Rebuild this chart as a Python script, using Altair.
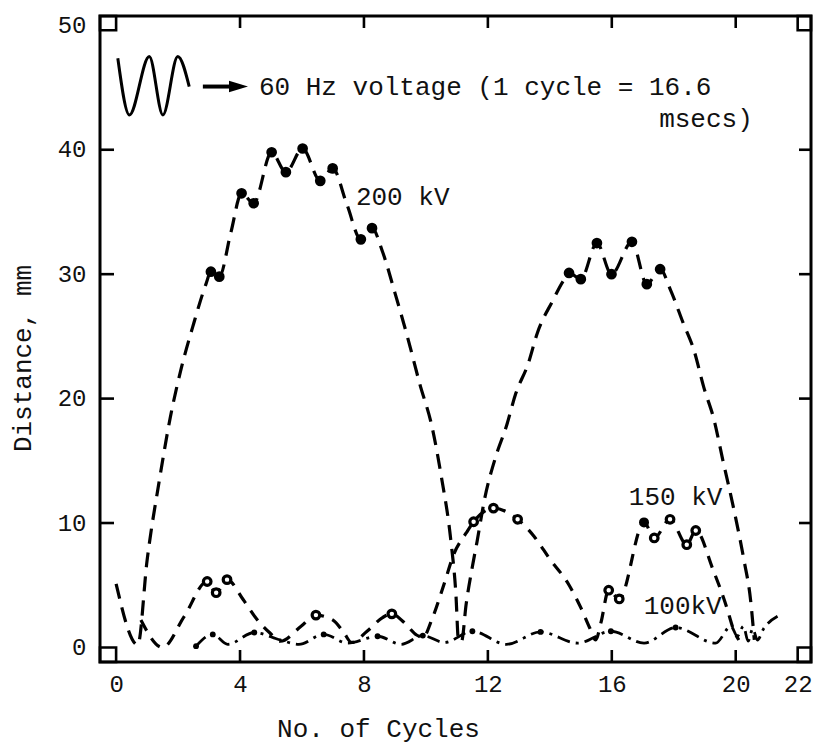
import altair as alt
import pandas as pd

# ---- 200 kV: dashed trace and the measured (filled) points ----
x200 = [0.0, 0.7, 1.0, 1.4, 1.75, 2.1, 2.5, 2.9, 3.06, 3.33, 3.7, 4.05, 4.44, 5.02,
        5.48, 6.02, 6.59, 6.99, 7.45, 7.9, 8.26, 8.6, 9.0, 9.4, 9.8, 10.2, 10.5, 10.8,
        10.97, 11.05, 11.15, 11.3, 11.5, 11.65, 11.9, 12.25, 12.6, 12.9, 13.3, 13.6,
        14.1, 14.42, 14.62, 15.0, 15.52, 15.99, 16.65, 17.13, 17.56, 17.9, 18.3, 18.65,
        18.97, 19.3, 19.58, 19.94, 20.26, 20.48, 20.6]
y200 = [5.1, 0.2, 7.0, 13.5, 18.5, 22.4, 26.0, 29.2, 30.2, 29.8, 33.3, 36.5, 35.7, 39.8,
        38.2, 40.1, 37.5, 38.5, 35.6, 32.8, 33.7, 31.8, 28.5, 25.0, 21.2, 17.7, 13.7, 8.7,
        4.2, 0.6, 0.5, 3.5, 6.5, 8.5, 12.0, 15.3, 17.8, 20.4, 22.8, 25.3,
        27.9, 29.4, 30.1, 29.6, 32.5, 30.0, 32.6, 29.2, 30.4, 28.7, 26.1, 23.9,
        20.9, 18.3, 15.1, 11.1, 7.1, 3.8, 0.6]
dot200_x = [3.06, 3.33, 4.05, 4.44, 5.02, 5.48, 6.02, 6.59, 6.99, 7.9, 8.26,
            14.62, 15.0, 15.52, 15.99, 16.65, 17.13, 17.56]
dot200_y = [30.2, 29.8, 36.5, 35.7, 39.8, 38.2, 40.1, 37.5, 38.5, 32.8, 33.7,
            30.1, 29.6, 32.5, 30.0, 32.6, 29.2, 30.4]

# ---- 150 kV: dashed trace, open-circle points (one filled) ----
x150 = [0.8, 1.5, 2.2, 2.94, 3.23, 3.58, 4.1, 4.5, 4.95, 5.3, 5.97, 6.45, 7.0, 7.35,
        7.6, 8.1, 8.6, 8.9, 9.3, 9.7, 9.9, 10.2, 10.6, 10.9, 11.3, 11.54, 12.18, 12.96,
        13.5, 14.0, 14.6, 15.0, 15.3, 15.48, 15.65, 15.9, 16.24, 17.04, 17.37, 17.88,
        18.42, 18.71, 19.26, 19.7, 19.95, 20.1]
y150 = [2.2, 0.0, 2.5, 5.3, 4.4, 5.45, 3.85, 2.4, 1.2, 0.5, 1.7, 2.6, 2.2, 1.2,
        0.4, 1.3, 2.4, 2.7, 2.0, 1.0, 0.8, 2.3, 5.2, 7.5, 9.2, 10.1, 11.2, 10.3,
        8.9, 7.1, 5.1, 3.2, 1.5, 0.6, 2.0, 4.6, 3.9, 10.05, 8.8, 10.3,
        8.26, 9.4, 6.3, 3.3, 1.3, 0.6]
ring150_x = [2.94, 3.23, 3.58, 6.45, 8.9, 11.54, 12.18, 12.96, 15.9, 16.24,
             17.37, 17.88, 18.42, 18.71]
ring150_y = [5.3, 4.4, 5.45, 2.6, 2.7, 10.1, 11.2, 10.3, 4.6, 3.9,
             8.8, 10.3, 8.26, 9.4]
solid150_x = [17.04]
solid150_y = [10.05]

# ---- 100 kV: dash-dot trace with small dots ----
x100 = [2.58, 3.12, 3.6, 4.46, 5.3, 5.9, 6.7, 7.47, 8.44, 9.2, 9.9, 10.6, 11.5, 12.6,
        13.7, 14.9, 15.97, 17.04, 18.06, 19.35, 19.85, 20.05, 20.25, 20.4, 20.55, 20.7,
        20.9, 21.35]
y100 = [0.1, 1.05, 0.25, 1.2, 0.6, 0.25, 1.05, 0.35, 0.9, 0.25, 0.95, 0.4, 1.3, 0.25,
        1.25, 0.35, 1.3, 0.35, 1.6, 0.35, 1.7, 0.9, 1.7, 0.5, 1.5, 0.6,
        1.5, 2.5]
dot100_x = [2.58, 3.12, 4.46, 6.7, 8.44, 9.9, 11.5, 13.7, 15.97, 18.06]
dot100_y = [0.1, 1.05, 1.2, 1.05, 0.9, 0.95, 1.3, 1.25, 1.3, 1.6]

# ---- series labels ----
lab_text = ["200 kV", "150 kV", "100kV"]
lab_x = [7.74, 16.55, 17.03]
lab_y = [36.2, 12.1, 3.3]

# ---- inset: voltage waveform sketch, arrow and note ----
wave_x = [0.055, 0.43, 1.07, 1.51, 1.99, 2.36]
wave_y = [47.36, 42.8, 47.5, 42.8, 47.5, 45.08]
arrow_x = [2.8, 3.8]
arrow_y = [45.08, 45.08]
head_x = [3.95]
head_y = [45.08]
note_text = ["60 Hz voltage (1 cycle = 16.6", "msecs)"]
note_x = [4.61, 20.55]
note_y = [45.06, 42.5]
note_align = ["left", "right"]

# ---- axis ticks and corner boxes ----
xticks = [4, 8, 12, 16, 20]
yticks = [10, 20, 30, 40]
xlabels = [0, 4, 8, 12, 16, 20, 22]
ylabels = [0, 10, 20, 30, 40, 50]

X_DOM = [-0.52, 22.43]
Y_DOM = [-1.17, 50.75]
box_x = [X_DOM[0], X_DOM[0], 22.0, 22.0]
box_x2 = [0.0, 0.0, X_DOM[1], X_DOM[1]]
box_y = [Y_DOM[0], 49.6, Y_DOM[0], 49.6]
box_y2 = [0.0, Y_DOM[1], 0.0, Y_DOM[1]]

W, H = 711, 646
FONT = "Liberation Mono"
INK = "#111111"

xs = alt.Scale(domain=X_DOM, nice=False, zero=False)
ys = alt.Scale(domain=Y_DOM, nice=False, zero=False)

x_axis = alt.Axis(values=xlabels, ticks=False, domain=False, grid=False,
                  labelFont=FONT, labelFontSize=24, labelColor=INK, labelPadding=10,
                  labelFlush=False, labelOverlap=False,
                  title="No. of Cycles", titleFont=FONT, titleFontSize=26,
                  titleFontWeight="normal", titleColor=INK,
                  titleX=278, titleY=66, titleAlign="center", titleBaseline="middle")
y_axis = alt.Axis(values=ylabels, ticks=False, domain=False, grid=False,
                  labelFont=FONT, labelFontSize=24, labelColor=INK, labelPadding=14,
                  labelFlush=False, labelOverlap=False,
                  title="Distance, mm", titleFont=FONT, titleFontSize=26,
                  titleFontWeight="normal", titleColor=INK,
                  titleX=-78, titleY=342, titleAngle=270,
                  titleAlign="center", titleBaseline="middle")

X = alt.X("x:Q", scale=xs, axis=x_axis)
Y = alt.Y("y:Q", scale=ys, axis=y_axis)


def frame(xv, yv, **extra):
    d = {"x": xv, "y": yv}
    d.update(extra)
    return pd.DataFrame(d)


line200 = alt.Chart(frame(x200, y200)).mark_line(
    color="black", strokeWidth=3.2, strokeDash=[15, 9], interpolate="monotone"
).encode(x=X, y=Y)
line150 = alt.Chart(frame(x150, y150)).mark_line(
    color="black", strokeWidth=3.2, strokeDash=[12, 9], interpolate="monotone"
).encode(x=X, y=Y)
line100 = alt.Chart(frame(x100, y100)).mark_line(
    color="black", strokeWidth=2.8, strokeDash=[13, 6, 3, 6], interpolate="monotone"
).encode(x=X, y=Y)

pts200 = alt.Chart(frame(dot200_x, dot200_y)).mark_circle(
    color="black", size=115, opacity=1
).encode(x=X, y=Y)
rings150 = alt.Chart(frame(ring150_x, ring150_y)).mark_point(
    shape="circle", size=58, filled=True, fill="white", stroke="black",
    strokeWidth=3.2, opacity=1
).encode(x=X, y=Y)
solid150 = alt.Chart(frame(solid150_x, solid150_y)).mark_circle(
    color="black", size=100, opacity=1
).encode(x=X, y=Y)
pts100 = alt.Chart(frame(dot100_x, dot100_y)).mark_circle(
    color="black", size=34, opacity=1
).encode(x=X, y=Y)

labels = alt.Chart(frame(lab_x, lab_y, t=lab_text)).mark_text(
    font=FONT, fontSize=26, align="left", baseline="middle", color=INK
).encode(x=X, y=Y, text="t:N")

wave = alt.Chart(frame(wave_x, wave_y)).mark_line(
    color="black", strokeWidth=3, interpolate="monotone"
).encode(x=X, y=Y)
arrow = alt.Chart(frame(arrow_x, arrow_y)).mark_line(
    color="black", strokeWidth=4
).encode(x=X, y=Y)
head = alt.Chart(frame(head_x, head_y)).mark_point(
    shape="M-1,-0.6L1,0L-1,0.6Z", size=361, filled=True, color="black", opacity=1
).encode(x=X, y=Y)
note = alt.Chart(frame(note_x, note_y, t=note_text, a=note_align)).transform_filter(
    alt.datum.a == "left"
).mark_text(font=FONT, fontSize=26, align="left", baseline="middle", color=INK
).encode(x=X, y=Y, text="t:N")
note_r = alt.Chart(frame(note_x, note_y, t=note_text, a=note_align)).transform_filter(
    alt.datum.a == "right"
).mark_text(font=FONT, fontSize=26, align="right", baseline="middle", color=INK
).encode(x=X, y=Y, text="t:N")

tick_style = dict(color="black", strokeWidth=2.6)
xt_df = pd.DataFrame({"x": xticks})
yt_df = pd.DataFrame({"y": yticks})
tick_bottom = alt.Chart(xt_df).mark_rule(**tick_style).encode(
    x=X, y=alt.value(H), y2=alt.value(H - 12))
tick_top = alt.Chart(xt_df).mark_rule(**tick_style).encode(
    x=X, y=alt.value(0), y2=alt.value(12))
tick_left = alt.Chart(yt_df).mark_rule(**tick_style).encode(
    y=Y, x=alt.value(0), x2=alt.value(14))
tick_right = alt.Chart(yt_df).mark_rule(**tick_style).encode(
    y=Y, x=alt.value(W - 12), x2=alt.value(W))

boxes = alt.Chart(pd.DataFrame({"x": box_x, "x2": box_x2, "y": box_y, "y2": box_y2})
                  ).mark_rect(fill="white", fillOpacity=0, stroke="black", strokeWidth=2.6
                              ).encode(x=X, x2="x2:Q", y=Y, y2="y2:Q")

chart = alt.layer(
    boxes, tick_bottom, tick_top, tick_left, tick_right,
    line100, line150, line200, pts100, rings150, solid150, pts200,
    labels, wave, arrow, head, note, note_r
).properties(
    width=W, height=H,
    autosize=alt.AutoSizeParams(type="none"),
    padding={"left": 100, "top": 16, "right": 6, "bottom": 84},
    background="white",
).configure_view(stroke="black", strokeWidth=3)

chart.save("out.html", embed_options={"renderer": "svg", "actions": False})
